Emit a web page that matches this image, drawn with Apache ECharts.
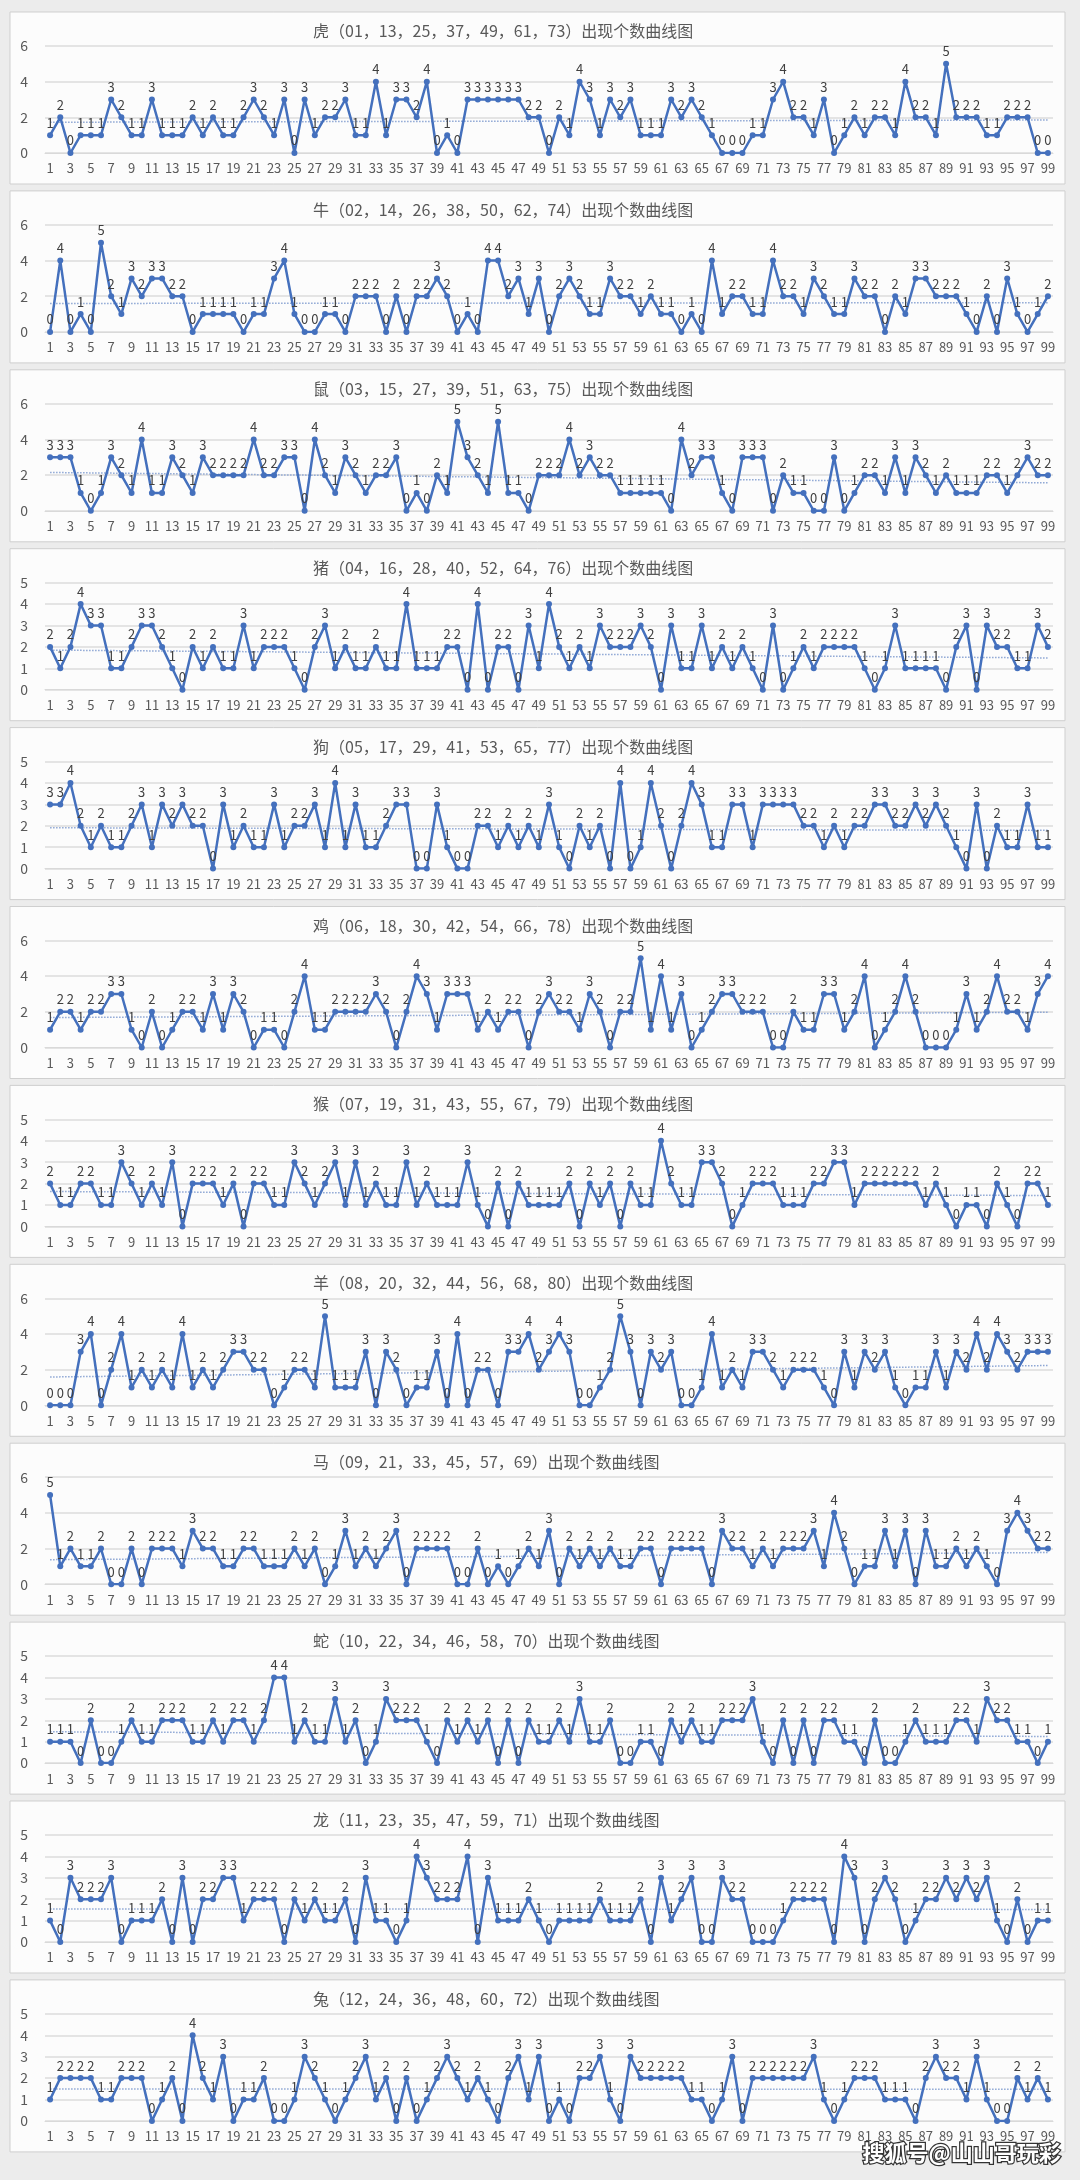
<!DOCTYPE html>
<html><head><meta charset="utf-8">
<script src="https://cdn.jsdelivr.net/npm/echarts@6/dist/echarts.min.js"></script>
<style>html,body{margin:0;padding:0;background:#ececec;}#c{width:1080px;height:2180px;}</style>
</head><body><div id="c"></div>
<script>
// ---- data ----
const categories = Array.from({length: 99}, (_, i) => String(i + 1));
const titles = [
  '虎（01，13，25，37，49，61，73）出现个数曲线图',
  '牛（02，14，26，38，50，62，74）出现个数曲线图',
  '鼠（03，15，27，39，51，63，75）出现个数曲线图',
  '猪（04，16，28，40，52，64，76）出现个数曲线图',
  '狗（05，17，29，41，53，65，77）出现个数曲线图',
  '鸡（06，18，30，42，54，66，78）出现个数曲线图',
  '猴（07，19，31，43，55，67，79）出现个数曲线图',
  '羊（08，20，32，44，56，68，80）出现个数曲线图',
  '马（09，21，33，45，57，69）出现个数曲线图',
  '蛇（10，22，34，46，58，70）出现个数曲线图',
  '龙（11，23，35，47，59，71）出现个数曲线图',
  '兔（12，24，36，48，60，72）出现个数曲线图'
];
const yMax = [6, 6, 6, 5, 5, 6, 5, 6, 6, 5, 5, 5];
const yStep = [2, 2, 2, 1, 1, 2, 1, 2, 2, 1, 1, 1];

const tiger = [1,2,0,1,1,1,3,2,1,1, 3,1,1,1,2,1,2,1,1,2, 3,2,1,3,0,3,1,2,2,3, 1,1,4,1,3,3,2,4,0,1, 0,3,3,3,3,3,3,2,2,0, 2,1,4,3,1,3,2,3,1,1, 1,3,2,3,2,1,0,0,0,1, 1,3,4,2,2,1,3,0,1,2, 1,2,2,1,4,2,2,1,5,2, 2,2,1,1,2,2,2,0,0];
const ox = [0,4,0,1,0,5,2,1,3,2, 3,3,2,2,0,1,1,1,1,0, 1,1,3,4,1,0,0,1,1,0, 2,2,2,0,2,0,2,2,3,2, 0,1,0,4,4,2,3,1,3,0, 2,3,2,1,1,3,2,2,1,2, 1,1,0,1,0,4,1,2,2,1, 1,4,2,2,1,3,2,1,1,3, 2,2,0,2,1,3,3,2,2,2, 1,0,2,0,3,1,0,1,2];
const rat = [3,3,3,1,0,1,3,2,1,4, 1,1,3,2,1,3,2,2,2,2, 4,2,2,3,3,0,4,2,1,3, 2,1,2,2,3,0,1,0,2,1, 5,3,2,1,5,1,1,0,2,2, 2,4,2,3,2,2,1,1,1,1, 1,0,4,2,3,3,1,0,3,3, 3,0,2,1,1,0,0,3,0,1, 2,2,1,3,1,3,2,1,2,1, 1,1,2,2,1,2,3,2,2];
const pig = [2,1,2,4,3,3,1,1,2,3, 3,2,1,0,2,1,2,1,1,3, 1,2,2,2,1,0,2,3,1,2, 1,1,2,1,1,4,1,1,1,2, 2,0,4,0,2,2,0,3,1,4, 2,1,2,1,3,2,2,2,3,2, 0,3,1,1,3,1,2,1,2,1, 0,3,0,1,2,1,2,2,2,2, 1,0,1,3,1,1,1,1,0,2, 3,0,3,2,2,1,1,3,2];
const dog = [3,3,4,2,1,2,1,1,2,3, 1,3,2,3,2,2,0,3,1,2, 1,1,3,1,2,2,3,1,4,1, 3,1,1,2,3,3,0,0,3,1, 0,0,2,2,1,2,1,2,1,3, 1,0,2,1,2,0,4,0,1,4, 2,0,2,4,3,1,1,3,3,1, 3,3,3,3,2,2,1,2,1,2, 2,3,3,2,2,3,2,3,2,1, 0,3,0,2,1,1,3,1,1];
const rooster = [1,2,2,1,2,2,3,3,1,0, 2,0,1,2,2,1,3,1,3,2, 0,1,1,0,2,4,1,1,2,2, 2,2,3,2,0,2,4,3,1,3, 3,3,1,2,1,2,2,0,2,3, 2,2,1,3,2,0,2,2,5,1, 4,1,3,0,1,2,3,3,2,2, 2,0,0,2,1,1,3,3,1,2, 4,0,1,2,4,2,0,0,0,1, 3,1,2,4,2,2,1,3,4];
const monkey = [2,1,1,2,2,1,1,3,2,1, 2,1,3,0,2,2,2,1,2,0, 2,2,1,1,3,2,1,2,3,1, 3,1,2,1,1,3,1,2,1,1, 1,3,1,0,2,0,2,1,1,1, 1,2,0,2,1,2,0,2,1,1, 4,2,1,1,3,3,2,0,1,2, 2,2,1,1,1,2,2,3,3,1, 2,2,2,2,2,2,1,2,1,0, 1,1,0,2,1,0,2,2,1];
const goat = [0,0,0,3,4,0,2,4,1,2, 1,2,1,4,1,2,1,2,3,3, 2,2,0,1,2,2,1,5,1,1, 1,3,0,3,2,0,1,1,3,0, 4,0,2,2,0,3,3,4,2,3, 4,3,0,0,1,2,5,3,0,3, 2,3,0,0,1,4,1,2,1,3, 3,2,1,2,2,2,1,0,3,1, 3,2,3,1,0,1,1,3,1,3, 2,4,2,4,3,2,3,3,3];
const horse = [5,1,2,1,1,2,0,0,2,0, 2,2,2,1,3,2,2,1,1,2, 2,1,1,1,2,1,2,0,1,3, 1,2,1,2,3,0,2,2,2,2, 0,0,2,0,1,0,1,2,1,3, 0,2,1,2,1,2,1,1,2,2, 0,2,2,2,2,0,3,2,2,1, 2,1,2,2,2,3,1,4,2,0, 1,1,3,1,3,0,3,1,1,2, 1,2,1,0,3,4,3,2,2];
const snake = [1,1,1,0,2,0,0,1,2,1, 1,2,2,2,1,1,2,1,2,2, 1,2,4,4,1,2,1,1,3,1, 2,0,1,3,2,2,2,1,0,2, 1,2,1,2,0,2,0,2,1,1, 2,1,3,1,1,2,0,0,1,1, 0,2,1,2,1,1,2,2,2,3, 1,0,2,0,2,0,2,2,1,1, 0,2,0,0,1,2,1,1,1,2, 2,1,3,2,2,1,1,0,1];
const dragon = [1,0,3,2,2,2,3,0,1,1, 1,2,0,3,0,2,2,3,3,1, 2,2,2,0,2,1,2,1,1,2, 0,3,1,1,0,1,4,3,2,2, 2,4,0,3,1,1,1,2,1,0, 1,1,1,1,2,1,1,1,2,0, 3,1,2,3,0,0,3,2,2,0, 0,0,1,2,2,2,2,0,4,3, 0,2,3,2,0,1,2,2,3,2, 3,2,3,1,0,2,0,1,1];
const rabbit = [1,2,2,2,2,1,1,2,2,2, 0,1,2,0,4,2,1,3,0,1, 1,2,0,0,1,3,2,1,0,1, 2,3,1,2,0,2,0,1,2,3, 2,1,2,1,0,2,3,1,3,0, 1,0,2,2,3,1,0,3,2,2, 2,2,2,1,1,0,1,3,0,2, 2,2,2,2,2,3,1,0,1,2, 2,2,1,1,1,0,2,3,2,2, 1,3,1,0,0,2,1,2,1];

const seriesData = [tiger, ox, rat, pig, dog, rooster, monkey, goat, horse, snake, dragon, rabbit];

// ---- layout ----
const STEP = 178.9;
const FONT = '"Noto Sans CJK SC", "Noto Sans", sans-serif';
const LINE = '#4470bd';

function trend(d) {
  const n = d.length; let sx = 0, sy = 0, sxy = 0, sxx = 0;
  d.forEach((v, i) => { const x = i + 1; sx += x; sy += v; sxy += x * v; sxx += x * x; });
  const m = (n * sxy - sx * sy) / (n * sxx - sx * sx);
  const b = (sy - m * sx) / n;
  return d.map((_, i) => +(b + m * (i + 1)).toFixed(4));
}

const title = [], grid = [], xAxis = [], yAxis = [], series = [], graphic = [];
seriesData.forEach((d, k) => {
  const off = STEP * k;
  graphic.push({type: 'rect', z: -10, silent: true,
    shape: {x: 10, y: 12 + off, width: 1055, height: 172},
    style: {fill: '#fcfcfc', stroke: '#cfcfcf', lineWidth: 1}});
  title.push({text: titles[k], left: 308, top: 18 + off,
    textStyle: {fontSize: 16, color: '#595959', fontWeight: 'normal', fontFamily: FONT}});
  grid.push({left: 45, width: 1008, top: 46 + off, height: 107});
  xAxis.push({type: 'category', gridIndex: k, data: categories, boundaryGap: true,
    axisTick: {show: false}, axisLine: {lineStyle: {color: '#d9d9d9'}},
    axisLabel: {interval: 1, fontSize: 13, color: '#595959', margin: 9, fontFamily: FONT}});
  yAxis.push({type: 'value', gridIndex: k, min: 0, max: yMax[k], interval: yStep[k],
    axisLine: {show: false}, axisTick: {show: false},
    axisLabel: {fontSize: 14, color: '#595959', margin: 17, fontFamily: FONT},
    splitLine: {lineStyle: {color: '#dcdcdc', width: 1.5}}});
  series.push({type: 'line', xAxisIndex: k, yAxisIndex: k, data: d,
    symbol: 'circle', symbolSize: 6, animation: false,
    lineStyle: {color: LINE, width: 2.5}, itemStyle: {color: LINE},
    label: {show: true, position: 'top', distance: 3, fontSize: 13, color: '#404040', fontFamily: FONT}});
  series.push({type: 'line', xAxisIndex: k, yAxisIndex: k, data: trend(d),
    symbol: 'none', silent: true, animation: false, z: 1,
    lineStyle: {color: '#8da6d4', width: 1.5, type: 'dotted'}});
});

graphic.push({type: 'text', right: 18, top: 2140, z: 100, silent: true,
  style: {text: '搜狐号@山山哥玩彩', fontSize: 22, fontWeight: 'bold', fontFamily: FONT,
    fill: '#ffffff', stroke: '#333333', lineWidth: 2.5}});

const chart = echarts.init(document.getElementById('c'), null, {renderer: 'canvas'});
chart.setOption({backgroundColor: '#ececec', animation: false, title, grid, xAxis, yAxis, series, graphic});
</script></body></html>
